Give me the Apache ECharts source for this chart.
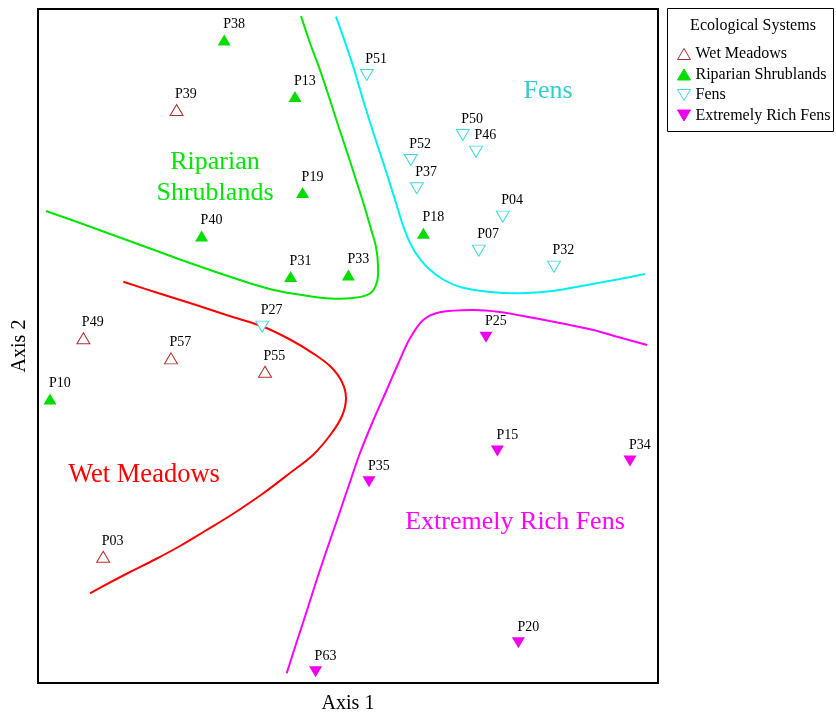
<!DOCTYPE html>
<html>
<head>
<meta charset="utf-8">
<script src="https://cdn.jsdelivr.net/npm/echarts@6/dist/echarts.min.js"></script>
<style>
  html, body { margin: 0; padding: 0; background: #fff; }
  #chart { width: 836px; height: 719px; }
</style>
</head>
<body>
<div id="chart"></div>
<script>
// Ordination scores (Axis 1, Axis 2) of plots, grouped by ecological system
const wetMeadows = [
  ['P39', -0.857, 1.180],
  ['P49', -1.323, 0.039],
  ['P57', -0.885, -0.062],
  ['P55', -0.415, -0.129],
  ['P03', -1.224, -1.054]
];
const riparianShrublands = [
  ['P38', -0.619, 1.530],
  ['P13', -0.265, 1.247],
  ['P19', -0.227, 0.767],
  ['P40', -0.732, 0.550],
  ['P31', -0.287, 0.347],
  ['P33', 0.002, 0.355],
  ['P18', 0.377, 0.564],
  ['P10', -1.490, -0.265]
];
const fens = [
  ['P51', 0.094, 1.355],
  ['P50', 0.574, 1.055],
  ['P46', 0.640, 0.972],
  ['P52', 0.314, 0.930],
  ['P37', 0.344, 0.789],
  ['P04', 0.774, 0.647],
  ['P07', 0.654, 0.477],
  ['P32', 1.030, 0.397],
  ['P27', -0.429, 0.097]
];
const extremelyRichFens = [
  ['P25', 0.690, 0.044],
  ['P15', 0.747, -0.525],
  ['P34', 1.410, -0.575],
  ['P35', 0.105, -0.679],
  ['P20', 0.852, -1.484],
  ['P63', -0.162, -1.629]
];

// Group boundary curves in ordination space
const riparianBoundary = [
  [-1.51, 0.675], [-1.34, 0.615], [-1.175, 0.555], [-1.01, 0.495], [-0.84, 0.4325],
  [-0.675, 0.375], [-0.51, 0.32], [-0.36, 0.2775], [-0.215, 0.2525], [-0.09, 0.2375],
  [0.025, 0.24], [0.11, 0.2625], [0.145, 0.32], [0.15, 0.405], [0.14, 0.495],
  [0.115, 0.585], [0.08, 0.705], [0.04, 0.83], [0.0, 0.955], [-0.045, 1.09],
  [-0.09, 1.23], [-0.14, 1.38], [-0.19, 1.515], [-0.235, 1.65]
];
const fensBoundary = [
  [-0.06, 1.6465], [-0.015, 1.52], [0.0265, 1.3965], [0.065, 1.265], [0.1065, 1.13],
  [0.15, 0.995], [0.1935, 0.8635], [0.24, 0.715], [0.285, 0.575], [0.335, 0.47],
  [0.40, 0.39], [0.48, 0.33], [0.57, 0.2925], [0.71, 0.27], [0.86, 0.2635],
  [1.025, 0.275], [1.195, 0.305], [1.36, 0.335], [1.485, 0.36]
];
const wetMeadowsBoundary = [
  [-1.1235, 0.3215], [-0.95, 0.265], [-0.775, 0.21], [-0.60, 0.1525], [-0.4235, 0.0965],
  [-0.29, 0.0325], [-0.175, -0.0365], [-0.085, -0.105], [-0.03, -0.18], [-0.01, -0.2615],
  [-0.03, -0.35], [-0.085, -0.44], [-0.175, -0.545], [-0.29, -0.635], [-0.425, -0.7375],
  [-0.58, -0.8425], [-0.715, -0.925], [-0.84, -1.0], [-0.965, -1.0675], [-1.09, -1.13],
  [-1.19, -1.1825], [-1.29, -1.2365]
];
const richFensBoundary = [
  [-0.3065, -1.6365], [-0.26, -1.49], [-0.21, -1.3375], [-0.16, -1.18], [-0.1065, -1.02],
  [-0.065, -0.90], [-0.025, -0.7825], [0.015, -0.665], [0.06, -0.535], [0.125, -0.375],
  [0.1935, -0.22], [0.25, -0.09], [0.31, 0.0385], [0.3765, 0.13], [0.46, 0.1685],
  [0.6265, 0.18], [0.76, 0.17], [0.8935, 0.1465], [1.06, 0.115], [1.2265, 0.08],
  [1.36, 0.0425], [1.4965, 0.005]
];

const FONT = "'Liberation Serif', 'Times New Roman', serif";
const DOWN_TRIANGLE = 'path://M0,0L20,0L10,17Z';

const chart = echarts.init(document.getElementById('chart'), null, { renderer: 'canvas' });

function pointLabel() {
  return {
    show: true,
    position: [5.5, -17],
    formatter: p => p.value[2],
    color: '#000',
    fontFamily: FONT,
    fontSize: 14,
    lineHeight: 14
  };
}

function toPoints(rows) {
  return rows.map(r => [r[1], r[2], r[0]]);
}

function scatter(name, rows, symbol, fill, stroke) {
  return {
    name: name,
    type: 'scatter',
    data: toPoints(rows),
    symbol: symbol,
    symbolSize: [13, 11],
    itemStyle: { color: fill, borderColor: stroke, borderWidth: fill === '#ffffff' ? 1 : 0, opacity: 1 },
    label: pointLabel(),
    z: 5,
    emphasis: { disabled: true }
  };
}

// A boundary is drawn as one smooth spline through its points, mapped by the axes
function boundary(name, pts, color) {
  return {
    name: name,
    type: 'custom',
    data: pts,
    encode: { x: 0, y: 1 },
    z: 3,
    silent: true,
    clip: false,
    renderItem: function (params, api) {
      if (params.dataIndex !== 0) return null;
      const coords = pts.map(p => api.coord(p));
      return {
        type: 'polyline',
        shape: { points: coords, smooth: 0.35 },
        style: { stroke: color, lineWidth: 2, fill: null }
      };
    }
  };
}

const option = {
  animation: false,
  backgroundColor: '#fff',
  grid: {
    left: 38, top: 9, width: 620, height: 674,
    show: true, borderColor: '#000', borderWidth: 2, backgroundColor: 'transparent'
  },
  xAxis: {
    type: 'value', min: -1.55, max: 1.55,
    name: 'Axis 1', nameLocation: 'middle', nameGap: 11,
    nameTextStyle: { fontFamily: FONT, fontSize: 20, color: '#000', lineHeight: 20, verticalAlign: 'top' },
    axisLine: { show: false }, axisTick: { show: false }, axisLabel: { show: false }, splitLine: { show: false }
  },
  yAxis: {
    type: 'value', min: -1.685, max: 1.685,
    name: 'Axis 2', nameLocation: 'middle', nameGap: 8,
    nameTextStyle: { fontFamily: FONT, fontSize: 20, color: '#000', lineHeight: 20 },
    axisLine: { show: false }, axisTick: { show: false }, axisLabel: { show: false }, splitLine: { show: false }
  },
  legend: {
    orient: 'vertical',
    left: 677, top: 46,
    padding: 0,
    itemGap: 4.5,
    itemWidth: 13, itemHeight: 11,
    selectedMode: false,
    itemStyle: { borderWidth: 1 },
    data: ['Wet Meadows', 'Riparian Shrublands', 'Fens', 'Extremely Rich Fens'],
    textStyle: { fontFamily: FONT, fontSize: 16, lineHeight: 16, color: '#000' }
  },
  graphic: [
    {
      type: 'rect', z: -1,
      shape: { x: 667.5, y: 8.5, width: 166, height: 123 },
      style: { fill: '#fff', stroke: '#000', lineWidth: 1 }
    },
    {
      type: 'text', z: 10, x: 753, y: 26,
      style: { text: 'Ecological Systems', fontFamily: FONT, fontSize: 16, fill: '#000', align: 'center', verticalAlign: 'middle' }
    },
    {
      type: 'text', z: 10, x: 215, y: 178,
      style: { text: 'Riparian\nShrublands', fontFamily: FONT, fontSize: 26, lineHeight: 31, fill: '#00e600', align: 'center', verticalAlign: 'middle' }
    },
    {
      type: 'text', z: 10, x: 548, y: 91,
      style: { text: 'Fens', fontFamily: FONT, fontSize: 26, fill: '#33cccc', align: 'center', verticalAlign: 'middle' }
    },
    {
      type: 'text', z: 10, x: 144, y: 475,
      style: { text: 'Wet Meadows', fontFamily: FONT, fontSize: 26.5, fill: '#ff0000', align: 'center', verticalAlign: 'middle' }
    },
    {
      type: 'text', z: 10, x: 515, y: 522,
      style: { text: 'Extremely Rich Fens', fontFamily: FONT, fontSize: 26, fill: '#ff00ff', align: 'center', verticalAlign: 'middle' }
    }
  ],
  series: [
    boundary('riparian boundary', riparianBoundary, '#00e600'),
    boundary('fens boundary', fensBoundary, '#00f0f0'),
    boundary('wet meadows boundary', wetMeadowsBoundary, '#ff0000'),
    boundary('rich fens boundary', richFensBoundary, '#ff00ff'),
    scatter('Wet Meadows', wetMeadows, 'triangle', '#ffffff', '#b03030'),
    scatter('Riparian Shrublands', riparianShrublands, 'triangle', '#00dd00', '#00dd00'),
    scatter('Fens', fens, DOWN_TRIANGLE, '#ffffff', '#3fd8e0'),
    scatter('Extremely Rich Fens', extremelyRichFens, DOWN_TRIANGLE, '#ee00ee', '#ee00ee')
  ]
};

chart.setOption(option);
</script>
</body>
</html>
